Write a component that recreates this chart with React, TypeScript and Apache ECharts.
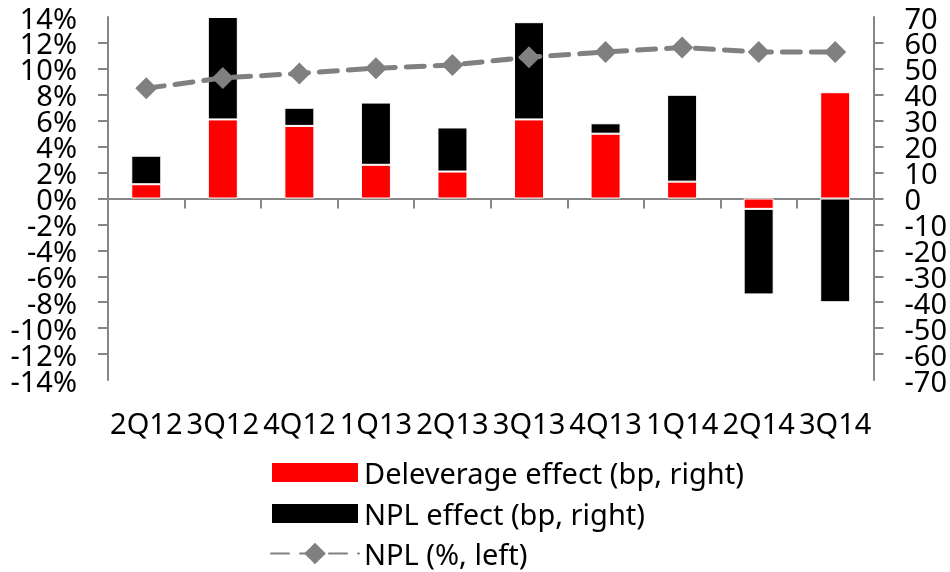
import React, { useEffect, useRef } from "react";
import * as echarts from "echarts";

const categories = ["2Q12", "3Q12", "4Q12", "1Q13", "2Q13", "3Q13", "4Q13", "1Q14", "2Q14", "3Q14"];
const deleverageEffect = [5.5, 30.5, 28, 13, 10.4, 30.5, 25, 6.5, -4, 41];
const nplEffect = [11, 39.5, 7, 24, 17, 37.5, 4, 33.5, -33, -40];
const nplRatio = [8.5, 9.3, 9.65, 10.05, 10.3, 10.9, 11.3, 11.65, 11.3, 11.3];
const legendNames = ["Deleverage effect (bp, right)", "NPL effect (bp, right)", "NPL (%, left)"];

const FONT = "Noto Sans";
const GREY = "#868686";

export default function App() {
  const ref = useRef<HTMLDivElement>(null);
  useEffect(() => {
    if (!ref.current) return;
    const chart = echarts.init(ref.current, null, { renderer: "svg" });
    const legendTops = [458, 499, 539];
    const legend = legendNames.map((name, i) => ({
      orient: "vertical",
      left: 270,
      top: legendTops[i],
      padding: 0,
      itemWidth: 88,
      itemHeight: i === 2 ? 27 : 21,
      itemGap: 0,
      textStyle: { fontFamily: FONT, fontSize: 29, lineHeight: i === 2 ? 27 : 21, color: "#000" },
      data: [i === 2 ? { name } : { name, icon: "rect" }],
    }));
    const labelBase = { fontSize: 29, lineHeight: 18, fontFamily: FONT, color: "#000", margin: 31 };
    const axisCommon = (min: number, max: number, interval: number, position: string) => ({
      type: "value",
      min,
      max,
      interval,
      position,
      splitLine: { show: false },
    });
    chart.setOption({
      animation: false,
      textStyle: { fontFamily: FONT, color: "#000" },
      grid: { left: 108, right: 76, top: 17, bottom: 192, containLabel: false },
      legend,
      xAxis: [
        {
          type: "category",
          data: categories,
          boundaryGap: true,
          position: "bottom",
          axisLine: { show: true, onZero: true, lineStyle: { color: GREY, width: 2 } },
          axisTick: { show: true, length: 10, interval: 0, lineStyle: { color: GREY, width: 2 } },
          axisLabel: { show: false },
          splitLine: { show: false },
        },
        {
          type: "category",
          data: categories,
          position: "bottom",
          boundaryGap: true,
          axisLine: { show: false, onZero: false },
          axisTick: { show: false },
          axisLabel: { show: true, interval: 0, fontSize: 29, fontFamily: FONT, color: "#000", margin: 28 },
          splitLine: { show: false },
        },
      ],
      yAxis: [
        {
          ...axisCommon(-14, 14, 2, "left"),
          axisLine: { show: true, lineStyle: { color: GREY, width: 2 } },
          axisTick: { show: true, length: 10, lineStyle: { color: GREY, width: 2 } },
          axisLabel: { ...labelBase, formatter: "{value}%", showMinLabel: false, showMaxLabel: false },
        },
        {
          ...axisCommon(-70, 70, 10, "right"),
          axisLine: { show: true, lineStyle: { color: GREY, width: 2 } },
          axisTick: { show: true, length: 10, lineStyle: { color: GREY, width: 2 } },
          axisLabel: { ...labelBase, showMinLabel: false, showMaxLabel: false },
        },
        {
          ...axisCommon(-14, 14, 2, "left"),
          axisLine: { show: false },
          axisTick: { show: false },
          axisLabel: {
            ...labelBase,
            showMinLabel: true,
            showMaxLabel: true,
            formatter: (v: number) => (Math.abs(v) === 14 ? v + "%" : ""),
          },
        },
        {
          ...axisCommon(-70, 70, 10, "right"),
          axisLine: { show: false },
          axisTick: { show: false },
          axisLabel: {
            ...labelBase,
            showMinLabel: true,
            showMaxLabel: true,
            formatter: (v: number) => (Math.abs(v) === 70 ? String(v) : ""),
          },
        },
      ],
      series: [
        {
          name: legendNames[0],
          type: "bar",
          stack: "eff",
          yAxisIndex: 1,
          barWidth: 30,
          itemStyle: { color: "#ff0000", borderColor: "#ffffff", borderWidth: 1 },
          data: deleverageEffect,
        },
        {
          name: legendNames[1],
          type: "bar",
          stack: "eff",
          yAxisIndex: 1,
          barWidth: 30,
          itemStyle: { color: "#000000", borderColor: "#ffffff", borderWidth: 1 },
          data: nplEffect,
        },
        {
          name: legendNames[2],
          type: "line",
          yAxisIndex: 0,
          symbol: "diamond",
          symbolSize: 22,
          itemStyle: { color: "#808080" },
          lineStyle: { color: "#808080", width: 5, type: [18, 11], cap: "round" },
          data: nplRatio,
          z: 5,
        },
      ],
    });
    return () => chart.dispose();
  }, []);
  return <div ref={ref} style={{ position: "fixed", left: 0, top: 0, width: 950, height: 572 }} />;
}
